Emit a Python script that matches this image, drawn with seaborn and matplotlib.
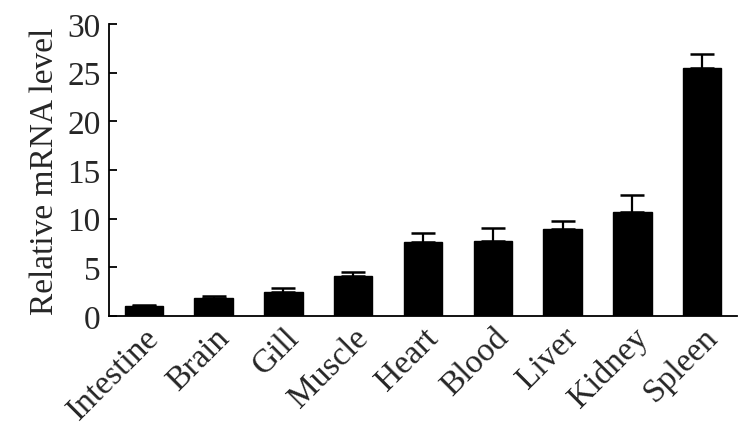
import matplotlib
matplotlib.use("Agg")
import matplotlib.pyplot as plt
import seaborn as sns
import numpy as np
import pandas as pd

categories = ["Intestine", "Brain", "Gill", "Muscle", "Heart", "Blood", "Liver", "Kidney", "Spleen"]
values = [1.0, 1.8, 2.45, 4.1, 7.6, 7.75, 8.9, 10.7, 25.5]
errors = [0.13, 0.3, 0.45, 0.45, 0.95, 1.25, 0.9, 1.7, 1.4]
y_ticks = [0, 5, 10, 15, 20, 25, 30]

sns.set_style("white")
plt.rcParams['font.family'] = ['Liberation Serif', 'DejaVu Serif']

df = pd.DataFrame({"tissue": categories, "level": values})

fig = plt.figure(figsize=(7.43, 4.31), dpi=100)
ax = fig.add_axes([109/743, 1 - 317/431, (737 - 109)/743, (317 - 25)/431])

sns.barplot(data=df, x="tissue", y="level", color="black", width=0.55,
            saturation=1, errorbar=None, ax=ax, edgecolor="black")
xs = np.arange(len(categories))
ax.errorbar(xs, values, yerr=[np.zeros(len(values)), errors], fmt="none",
            ecolor="black", elinewidth=1.6, capsize=8.5, capthick=1.8)

ax.set_xlim(-0.5, len(categories) - 0.5)
ax.set_ylim(0, 30)
ax.set_yticks(y_ticks)
ax.set_xticks(xs)
ax.set_xticklabels(categories, rotation=45, ha="right", rotation_mode="anchor")
ax.set_xticks(np.arange(len(categories)) + 0.5, minor=True)
ax.tick_params(axis="x", which="major", length=0, labelsize=24, pad=4)
ax.tick_params(axis="x", which="minor", direction="in", length=5, width=1.3, color="black")
ax.tick_params(axis="y", direction="in", length=6, width=1.3, labelsize=24, pad=6, color="black", left=True)
ax.set_xlabel("")
ax.set_ylabel("Relative mRNA level", fontsize=24, labelpad=5)

for s in ["top", "right"]:
    ax.spines[s].set_visible(False)
for s in ["left", "bottom"]:
    ax.spines[s].set_color("black")
    ax.spines[s].set_linewidth(1.3)

fig.savefig("out.png", dpi=100)
